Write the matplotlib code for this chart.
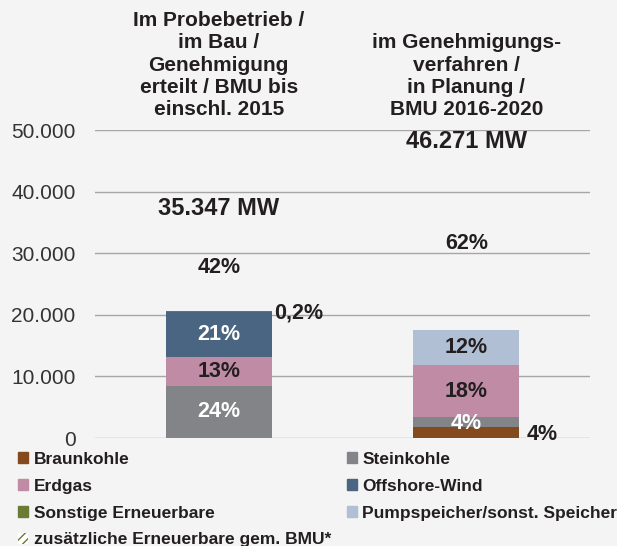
import numpy as np
import matplotlib
matplotlib.use("Agg")
import matplotlib.pyplot as plt
from matplotlib.patches import Patch

plt.rcParams['font.family'] = ['Liberation Sans', 'DejaVu Sans']

# data (MW)
categories = ["Im Probebetrieb /\nim Bau /\nGenehmigung\nerteilt / BMU bis\neinschl. 2015",
              "im Genehmigungs-\nverfahren /\nin Planung /\nBMU 2016-2020"]
totals = [35347, 46271]
series = ["Braunkohle", "Steinkohle", "Erdgas", "Offshore-Wind",
          "Sonstige Erneuerbare", "Pumpspeicher/sonst. Speicher"]
braunkohle = [0, 1750]
steinkohle = [8480, 1650]
erdgas = [4600, 8450]
offshore = [7420, 0]
sonstige = [70, 0]
pumpspeicher = [0, 5700]
extra_label = "zusätzliche Erneuerbare gem. BMU*"

colors = ["#84491d", "#838487", "#c08ba5", "#4a6582", "#6b7a34", "#b0bfd3"]
bg = "#f3f4f3"
dark = "#231f20"

values = np.array([braunkohle, steinkohle, erdgas, offshore, sonstige, pumpspeicher], dtype=float)
extra = np.array(totals) - values.sum(axis=0)

fig = plt.figure(figsize=(6.17, 5.46), dpi=100, facecolor=bg)
ax = fig.add_axes([95/617, 108/546, 495/617, 308/546], facecolor=bg)

x = np.arange(len(categories))
w = 0.43
bottom = np.zeros(len(categories))
for i, name in enumerate(series):
    ax.bar(x, values[i], w, bottom=bottom, color=colors[i], zorder=3)
    bottom += values[i]
ax.bar(x, extra, w, bottom=bottom, color="none", zorder=3)


def pct(v, t):
    p = v / t * 100
    if p < 1:
        return f"{p:.1f}".replace(".", ",") + "%"
    return f"{p:.0f}%"


# labels inside bars
lab_col = {1: "white", 2: dark, 3: "white", 5: dark}
for j in range(len(categories)):
    base = 0
    for i in range(len(series)):
        v = values[i, j]
        if v > 0:
            t = pct(v, totals[j])
            if i == 0:
                ax.text(x[j] + w/2 + 0.03, 500, t, ha="left", va="center",
                        fontsize=15.5, fontweight="bold", color=dark, zorder=5)
            elif i == 4:
                ax.text(x[j] + w/2 + 0.01, base + v - 300, t, ha="left", va="center",
                        fontsize=15.5, fontweight="bold", color=dark, zorder=5)
            else:
                yy = base + v/2 - (250 if v < 2500 else 0)
                ax.text(x[j], yy, t, ha="center", va="center", fontsize=15.5,
                        fontweight="bold", color=lab_col[i], zorder=5)
        base += v
    # extra renewables + total
    ax.text(x[j], bottom[j] + extra[j]/2 - 300, pct(extra[j], totals[j]), ha="center", va="center",
            fontsize=15.5, fontweight="bold", color=dark, zorder=5)
    ax.text(x[j], totals[j] + 1900, f"{totals[j]:,} MW".replace(",", "."), ha="center", va="center",
            fontsize=17, fontweight="bold", color=dark, zorder=5)

ax.set_xlim(-0.5, 1.5)
ax.set_ylim(0, 50000)
ax.set_yticks(np.arange(0, 50001, 10000))
ax.set_yticklabels(["0" if v == 0 else f"{v:,}".replace(",", ".") for v in range(0, 50001, 10000)])
ax.grid(axis="y", color="#a6a6a6", linewidth=1.0, zorder=0)
for s in ax.spines.values():
    s.set_visible(False)
ax.tick_params(axis="y", length=0, pad=14, labelsize=15, labelcolor="#333333")

ax.xaxis.tick_top()
ax.set_xticks(x)
ax.set_xticklabels(categories, fontsize=15, fontweight="bold", color=dark, linespacing=1.21)
ax.tick_params(axis="x", length=0, pad=8)

# legend: row-wise order
handles = [Patch(color=c) for c in colors]
handles.append(Patch(facecolor="white", edgecolor="#6b7a34", hatch="////", linewidth=0))
labels = series + [extra_label]
order = [0, 2, 4, 6, 1, 3, 5]
leg = fig.legend([handles[k] for k in order], [labels[k] for k in order],
                 loc="upper left", bbox_to_anchor=(18/617, 1 - 452/546), ncol=2,
                 frameon=False, borderaxespad=0, borderpad=0,
                 handlelength=0.6, handleheight=0.6, handletextpad=0.3,
                 columnspacing=0.9, labelspacing=0.68,
                 prop={"size": 12.5, "weight": "bold"})
for t in leg.get_texts():
    t.set_color(dark)

fig.savefig("out.png", dpi=100, facecolor=bg)
